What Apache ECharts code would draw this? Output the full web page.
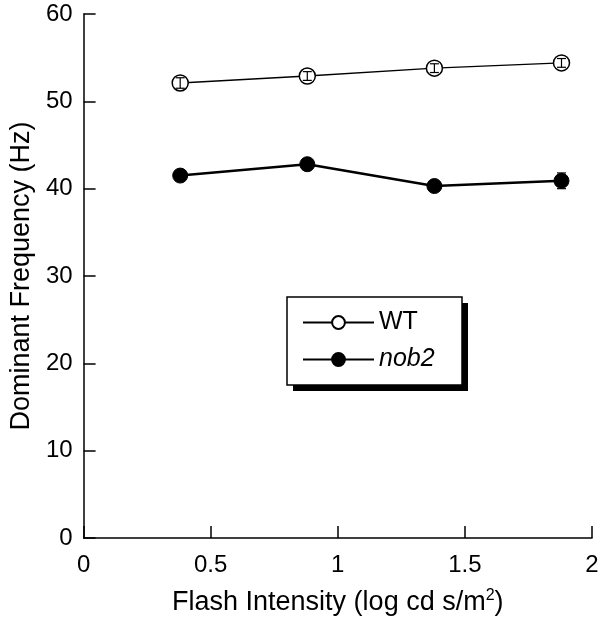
<!DOCTYPE html>
<html><head><meta charset="utf-8">
<script src="https://cdn.jsdelivr.net/npm/echarts@6/dist/echarts.min.js"></script>
<style>html,body{margin:0;padding:0;background:#fff}#c{width:604px;height:622px}</style>
</head><body><div id="c"></div>
<script>
var intensity = [0.38, 0.88, 1.38, 1.88];
var wtMean = [52.1, 52.9, 53.8, 54.4];
var wtErr = [0.6, 0.5, 0.5, 0.5];
var nobMean = [41.5, 42.8, 40.3, 40.9];
var nobErr = [0.4, 0.4, 0.4, 0.9];
var xTicks = [0, 0.5, 1, 1.5, 2];

var chart = echarts.init(document.getElementById('c'));
function pairs(m){return intensity.map(function(x,i){return [x,m[i]];});}
function errData(m,e){return intensity.map(function(x,i){return [x,m[i]-e[i],m[i]+e[i]];});}
function errRender(params, api){
  var x = api.value(0);
  var lo = api.coord([x, api.value(1)]);
  var hi = api.coord([x, api.value(2)]);
  var w = 4.5;
  var st = {stroke:'#000', lineWidth:1.2, fill:null};
  return {type:'group', children:[
    {type:'line', shape:{x1:lo[0],y1:lo[1],x2:hi[0],y2:hi[1]}, style:st},
    {type:'line', shape:{x1:lo[0]-w,y1:lo[1],x2:lo[0]+w,y2:lo[1]}, style:st},
    {type:'line', shape:{x1:hi[0]-w,y1:hi[1],x2:hi[0]+w,y2:hi[1]}, style:st}
  ]};
}
var font = 'Liberation Sans, Arial, sans-serif';
chart.setOption({
  animation:false,
  grid:{left:80, right:12, top:14, bottom:84},
  graphic:[
    {type:'rect', shape:{x:293, y:303, width:175, height:88}, style:{fill:'#000'}, z:1},
    {type:'rect', shape:{x:287, y:297, width:175, height:88}, style:{fill:'#fff', stroke:'#000', lineWidth:1.5}, z:2}
  ],
  xAxis:{type:'value', min:0, max:2, interval:0.5,
    name:'Flash Intensity (log cd s/m{sup|2})', nameLocation:'middle', nameGap:50,
    nameTextStyle:{color:'#000', fontSize:27, fontFamily:font, rich:{sup:{fontSize:16, verticalAlign:'top', padding:[0,0,14,0], color:'#000', fontFamily:font}}},
    axisLine:{lineStyle:{color:'#000', width:1.5}},
    axisTick:{inside:true, length:12, lineStyle:{color:'#000', width:1.5}},
    axisLabel:{color:'#000', fontSize:24, fontFamily:font, margin:15, showMinLabel:true, showMaxLabel:true,
      formatter:function(v){return xTicks.indexOf(v)>=0?String(v):'';}},
    splitLine:{show:false}},
  yAxis:{type:'value', min:0, max:60, interval:10,
    name:'Dominant Frequency (Hz)', nameLocation:'middle', nameGap:47,
    nameTextStyle:{color:'#000', fontSize:27, fontFamily:font},
    axisLine:{show:true, lineStyle:{color:'#000', width:1.5}},
    axisTick:{show:true, inside:true, length:12, lineStyle:{color:'#000', width:1.5}},
    axisLabel:{color:'#000', fontSize:24, fontFamily:font, margin:11},
    splitLine:{show:false}},
  legend:{orient:'vertical', left:302, top:310, itemWidth:71, itemHeight:16, itemGap:12,
    padding:0, z:10,
    textStyle:{color:'#000', fontSize:25, fontFamily:font},
    data:[{name:'WT'},{name:'nob2', textStyle:{fontStyle:'italic'}}]},
  series:[
    {name:'WT', type:'line', data:pairs(wtMean), symbol:'circle', symbolSize:16,
      lineStyle:{color:'#000', width:1.3}, itemStyle:{color:'#fff', borderColor:'#000', borderWidth:1.5}, z:2},
    {name:'nob2', type:'line', data:pairs(nobMean), symbol:'circle', symbolSize:15,
      lineStyle:{color:'#000', width:2.6}, itemStyle:{color:'#000', borderColor:'#000', borderWidth:1}, z:2},
    {type:'custom', data:errData(wtMean,wtErr), renderItem:errRender, z:5, silent:true},
    {type:'custom', data:errData(nobMean,nobErr), renderItem:errRender, z:1, silent:true}
  ]
});
</script></body></html>
